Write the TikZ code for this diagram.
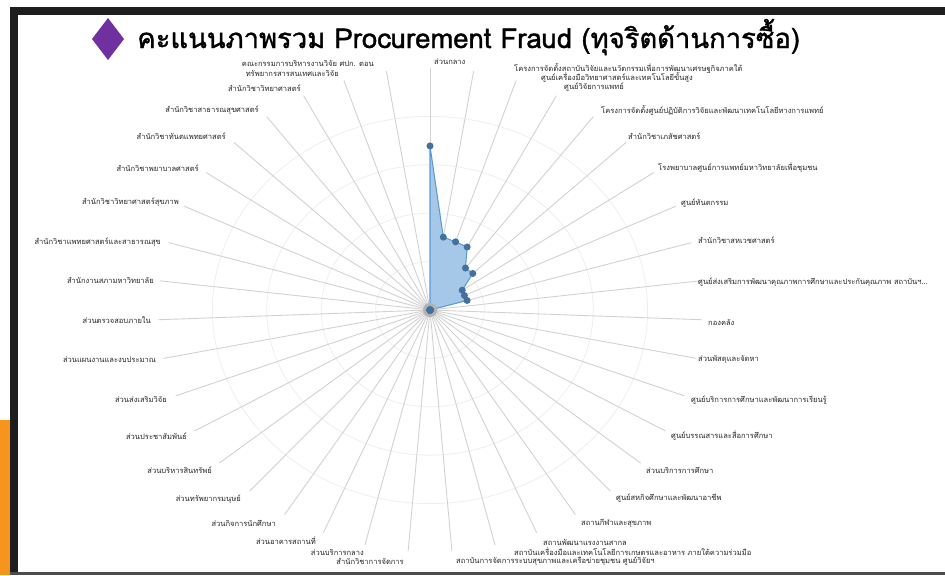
\documentclass[tikz,border=0pt]{standalone}
\usepackage{fontspec}
\newfontfamily\thaifont[Script=Thai]{Loma}
\newfontfamily\titlefont[Script=Thai, FakeBold=1.3]{Loma}
\usetikzlibrary{calc}

\definecolor{framegray}{HTML}{1E1E1E}
\definecolor{accentorange}{HTML}{F7941D}
\definecolor{titlepurple}{HTML}{7030A0}
\definecolor{seriesblue}{HTML}{5B9BD5}
\definecolor{markerblue}{HTML}{41719C}

\tikzset{
  spoke/.style={black!18, line width=0.5pt},
  ring/.style={black!7, line width=0.4pt},
  catlabel/.style={font=\thaifont\fontsize{4.3}{5}\selectfont, text=black!85, inner sep=0.5pt},
  datapt/.style={circle, fill=markerblue, inner sep=0pt, minimum size=4pt},
}

\begin{document}
\begin{tikzpicture}[x=0.02cm, y=-0.02cm]
	\useasboundingbox (0,0) rectangle (945,575);
	\fill[white] (0,0) rectangle (945,575);
	% slide frame
	\fill[accentorange] (0,420) rectangle (10,575);
	\fill[framegray] (10,7) rectangle (945,15);
	\fill[framegray] (10,7) rectangle (18,575);
	\fill[black!70] (10,572) rectangle (945,575);

	% title
	\fill[titlepurple] (108,18) -- (124,39) -- (108,60) -- (92,39) -- cycle;
	\node[anchor=base west, inner sep=0pt, font=\titlefont\fontsize{15.6}{17}\selectfont] (title) at (137,48) {คะแนนภาพรวม Procurement Fraud (ทุจริตด้านการซื้อ)};

	% radar grid
	\coordinate (hub) at (430,310);
	\foreach \f in {0.2,0.4,0.6,0.8}
		\draw[ring] (hub) ellipse ({272*\f} and {242*\f});
	\foreach \k in {0,...,38} {
		\coordinate (s\k) at ({430+272*sin(\k*360/39)},{310-242*cos(\k*360/39)});
		\draw[spoke] (hub) -- (s\k);
	}

	% category labels
	\node[catlabel, anchor=west] (lab0) at (433,62) {ส่วนกลาง};
	\foreach \k/\x/\y/\txt in {
		1/513/68/โครงการจัดตั้งสถาบันวิจัยและนวัตกรรมเพื่อการพัฒนาเศรษฐกิจภาคใต้,
		2/540/77/ศูนย์เครื่องมือวิทยาศาสตร์และเทคโนโลยีขั้นสูง,
		3/563/87/ศูนย์วิจัยการแพทย์,
		4/600/110/โครงการจัดตั้งศูนย์ปฏิบัติการวิจัยและพัฒนาเทคโนโลยีทางการแพทย์,
		5/627/136/สำนักวิชาเภสัชศาสตร์,
		6/657/168/โรงพยาบาลศูนย์การแพทย์มหาวิทยาลัยเพื่อชุมชน,
		7/680/203/ศูนย์ทันตกรรม,
		8/697/240/สำนักวิชาสหเวชศาสตร์,
		9/697/282/ศูนย์ส่งเสริมการพัฒนาคุณภาพการศึกษาและประกันคุณภาพ สถาบันฯ\ldots,
		10/707/322/กองคลัง,
		11/697/359/ส่วนพัสดุและจัดหา,
		12/690/400/ศูนย์บริการการศึกษาและพัฒนาการเรียนรู้,
		13/670/436/ศูนย์บรรณสารและสื่อการศึกษา,
		14/645/470/ส่วนบริการการศึกษา,
		15/615/498/ศูนย์สหกิจศึกษาและพัฒนาอาชีพ,
		16/580/523/สถานกีฬาและสุขภาพ,
		17/542/542/สถานพัฒนาแรงงานสากล,
		18/513/552/สถาบันเครื่องมือและเทคโนโลยีการเกษตรและอาหาร ภายใต้ความร่วมมือ,
		19/455/561/สถาบันการจัดการระบบสุขภาพและเครือข่ายชุมชน ศูนย์วิจัยฯ}
		\node[catlabel, anchor=west] (lab\k) at (\x,\y) {\txt};
	\foreach \k/\x/\y/\txt in {
		20/405/561/สำนักวิชาการจัดการ,
		21/365/552/ส่วนบริการกลาง,
		22/317/541/ส่วนอาคารสถานที่,
		23/277/523/ส่วนกิจการนักศึกษา,
		24/242/499/ส่วนทรัพยากรมนุษย์,
		25/213/470/ส่วนบริหารสินทรัพย์,
		26/188/436/ส่วนประชาสัมพันธ์,
		27/168/399/ส่วนส่งเสริมวิจัย,
		28/157/360/ส่วนแผนงานและงบประมาณ,
		29/152/320/ส่วนตรวจสอบภายใน,
		30/155/280/สำนักงานสภามหาวิทยาลัย,
		31/162/242/สำนักวิชาแพทยศาสตร์และสาธารณสุข,
		32/180/202/สำนักวิชาวิทยาศาสตร์สุขภาพ,
		33/200/168/สำนักวิชาพยาบาลศาสตร์,
		34/227/136/สำนักวิชาทันตแพทยศาสตร์,
		35/260/110/สำนักวิชาสาธารณสุขศาสตร์,
		36/302/88/สำนักวิชาวิทยาศาสตร์,
		37/340/73/ทรัพยากรสารสนเทศและวิจัย,
		38/375/63/คณะกรรมการบริหารงานวิจัย ศปก. ตอน}
		\node[catlabel, anchor=east] (lab\k) at (\x,\y) {\txt};

	% data series
	\foreach \k/\v in {0/0.678, 1/0.305, 2/0.297, 3/0.294, 4/0.217, 5/0.218, 6/0.144, 7/0.14, 8/0.142,
		9/0, 10/0, 11/0, 12/0, 13/0, 14/0, 15/0, 16/0, 17/0, 18/0, 19/0, 20/0, 21/0, 22/0, 23/0,
		24/0, 25/0, 26/0, 27/0, 28/0, 29/0, 30/0, 31/0, 32/0, 33/0, 34/0, 35/0, 36/0, 37/0, 38/0}
		\coordinate (d\k) at ($(hub)!\v!(s\k)$);
	\fill[seriesblue!55] (d0) \foreach \k in {1,...,38} { -- (d\k) } -- cycle;
	\draw[seriesblue, line width=0.6pt] (d0) \foreach \k in {1,...,38} { -- (d\k) } -- cycle;
	\fill[black!30] (hub) circle (7);
	\foreach \k in {0,...,38}
		\node[datapt] (m\k) at (d\k) {};
\end{tikzpicture}
\end{document}
